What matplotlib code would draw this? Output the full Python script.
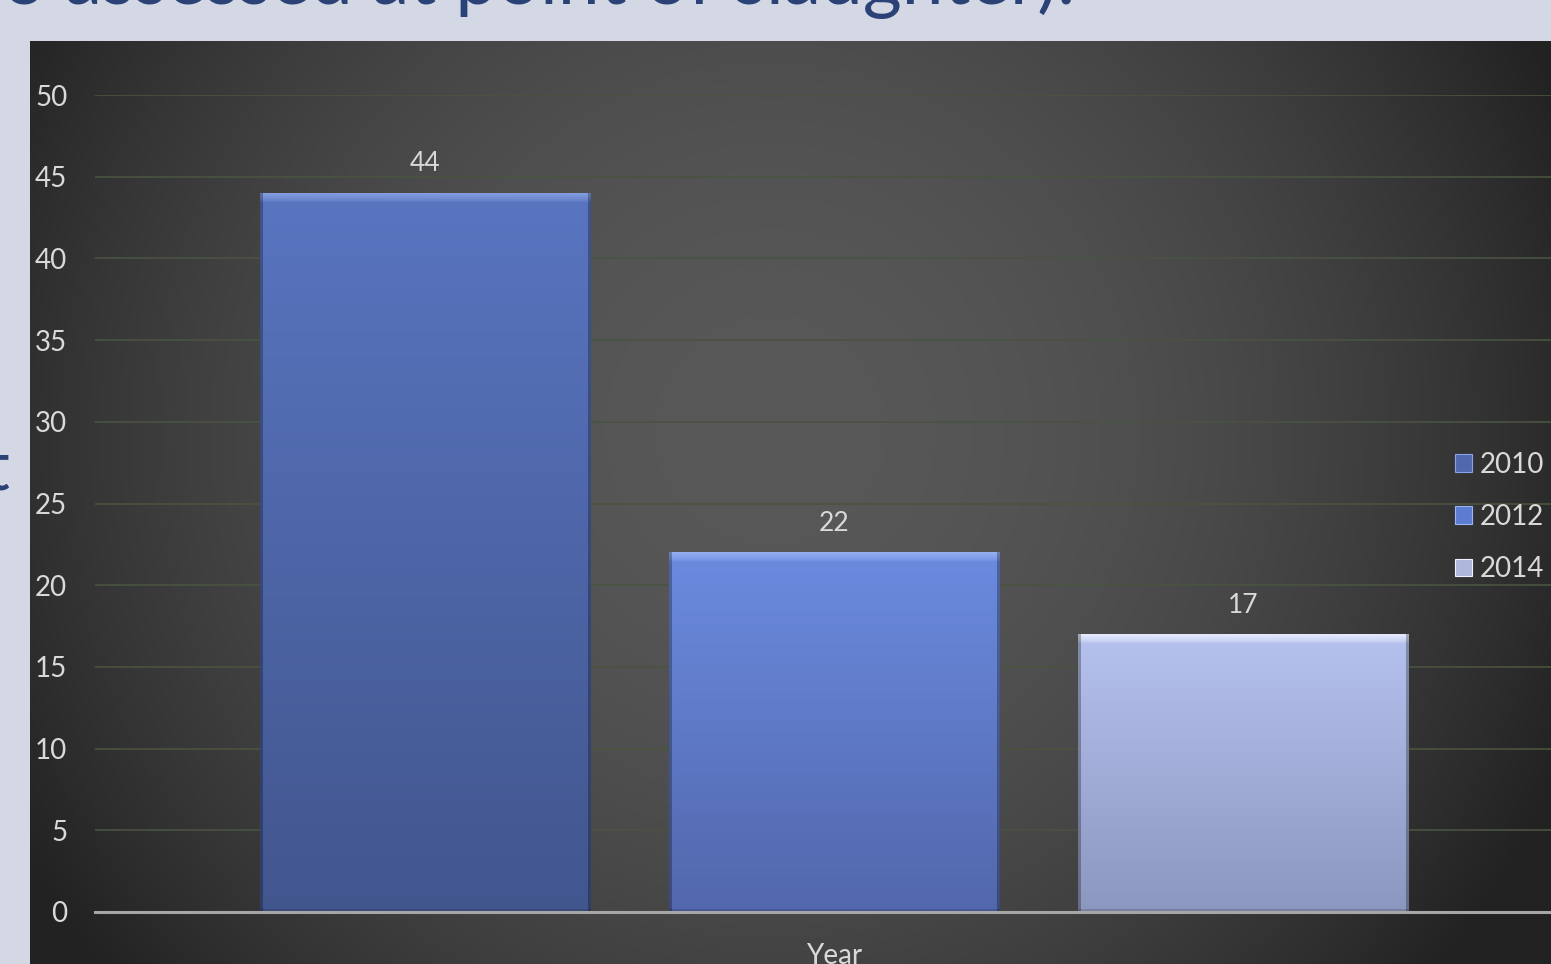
import matplotlib.pyplot as plt
import numpy as np
from matplotlib.colors import to_rgb

series = ["2010", "2012", "2014"]
values = [44, 22, 17]
category = "Year"
yticks = [0, 5, 10, 15, 20, 25, 30, 35, 40, 45, 50]
title_tail = "o assessed at point of slaughter)."

# top / bottom / bevel colours of every bar
tops = ["#5975c0", "#6b8bdf", "#b6c2ee"]
bottoms = ["#42568e", "#5267ac", "#8c97c0"]
bevels = ["#8aa3e6", "#9db5f5", "#eef1ff"]

W, H = 1551, 964
fig = plt.figure(figsize=(W / 100, H / 100), dpi=100)
fig.patch.set_facecolor("#d3d8e4")
plt.rcParams["font.family"] = ["Lato", "DejaVu Sans"]

# slide text cut by the screenshot
fig.text(1075 / W, 1 - 4 / H, title_tail, ha="right", va="baseline",
         fontsize=54, color="#2b4276")
fig.text(9 / W, 1 - 490 / H, "t", ha="right", va="baseline",
         fontsize=50, color="#2b4276")

# dark chart area with radial light
bg = fig.add_axes([30 / W, 0, 1 - 30 / W, (H - 41) / H])
bg.set_axis_off()
yy, xx = np.mgrid[41:H, 30:W]
r = np.hypot(xx - 770, yy - 430) / 850
val = np.clip(88 - 53 * r ** 2, 34, 88) / 255
bg.imshow(np.dstack([val, val, val]), aspect="auto", extent=(0, 1, 0, 1),
          interpolation="bilinear")
bg.set_xlim(0, 1)
bg.set_ylim(0, 1)

ax = fig.add_axes([95 / W, 52 / H, 1478 / W, 817 / H])
ax.patch.set_alpha(0)
x = np.arange(len(series))
width = 0.807
bars = ax.bar(x, values, width=width, color=tops, edgecolor="none", zorder=1)

# bevelled gradient fill over each bar
px_per_unit = 817 / 50
for b, top, bot, bev in zip(bars, tops, bottoms, bevels):
    x0, w = b.get_x(), b.get_width()
    h = b.get_height()
    hp = max(int(h * px_per_unit), 2)
    wp = 330
    t = np.linspace(0, 1, hp)[:, None, None]
    img = (1 - t) * np.array(to_rgb(top)) + t * np.array(to_rgb(bot))
    img = np.repeat(img, wp, axis=1)
    band = 9
    rows = np.arange(hp)
    f = np.clip(1 - rows / band, 0, 1)[:, None, None] ** 0.7
    img = img * (1 - f * 0.85) + np.array(to_rgb(bev)) * f * 0.85
    img[:, :3] *= 0.72
    img[:, -3:] *= 0.72
    img[-3:, :] *= 0.85
    ax.imshow(img, extent=(x0, x0 + w, 0, h), aspect="auto",
              interpolation="bilinear", zorder=1.2)
    ax.annotate(f"{h:g}", (b.get_x() + w / 2, h), xytext=(0, 21),
                textcoords="offset points", ha="center", va="center",
                fontsize=19, color="#d9d9d9")
ax.set_xlim(-0.807, 2.807)
ax.set_ylim(0, 50)

ax.set_yticks(yticks)
ax.set_yticklabels([str(v) for v in yticks])
ax.set_xticks([1])
ax.set_xticklabels([category])
ax.tick_params(axis="y", length=0, pad=20, labelsize=20, labelcolor="#d9d9d9")
ax.tick_params(axis="x", length=0, pad=22, labelsize=20, labelcolor="#d9d9d9")
ax.yaxis.grid(True, color="#4a5340", linewidth=1.2)
ax.set_axisbelow(True)
for s in ["left", "top", "right"]:
    ax.spines[s].set_visible(False)
ax.spines["bottom"].set_color("#a6a6a6")
ax.spines["bottom"].set_linewidth(2.2)
ax.spines["bottom"].set_zorder(3)

handles = [plt.Rectangle((0, 0), 1, 1, facecolor=c, edgecolor=e, linewidth=0.8)
           for c, e in zip(["#5068ae", "#5c7cd2", "#aeb7dc"], bevels)]
fig.legend(handles, series, loc="center left", bbox_to_anchor=(1455 / W, (H - 517) / H),
           frameon=False, fontsize=20, labelcolor="#d9d9d9", handlelength=0.6,
           handleheight=0.6, handletextpad=0.3, labelspacing=0.95,
           borderpad=0, borderaxespad=0)

fig.savefig("out.png", dpi=100, facecolor=fig.get_facecolor())
